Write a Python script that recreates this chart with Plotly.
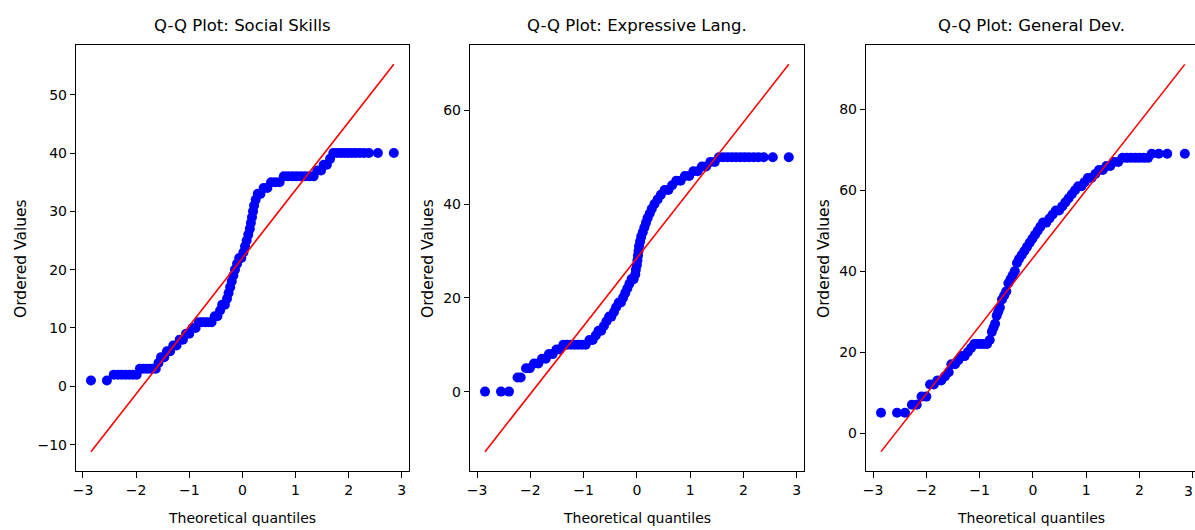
import plotly.graph_objects as go

# ---------------- data ----------------
titles = ["Q-Q Plot: Social Skills", "Q-Q Plot: Expressive Lang.", "Q-Q Plot: General Dev."]

social_x = [-2.85, -2.55, -2.42, -2.34, -2.27, -2.20, -2.13, -2.06, -1.99, -1.93, -1.87, -1.81,
            -1.75, -1.69, -1.63, -1.58, -1.53, -1.47, -1.42, -1.36, -1.30, -1.24, -1.18, -1.12,
            -1.06, -1.00, -0.94, -0.88, -0.82, -0.76, -0.70, -0.64, -0.58, -0.52, -0.47, -0.42,
            -0.38, -0.33, -0.29, -0.26, -0.23, -0.20, -0.17, -0.14, -0.10, -0.06, -0.02, 0.02,
            0.05, 0.08, 0.11, 0.14, 0.16, 0.18, 0.20, 0.22, 0.25, 0.29, 0.34, 0.40, 0.47, 0.54,
            0.62, 0.70, 0.78, 0.86, 0.94, 1.02, 1.10, 1.18, 1.26, 1.34, 1.41, 1.48, 1.53, 1.59,
            1.65, 1.71, 1.78, 1.85, 1.92, 1.99, 2.06, 2.13, 2.21, 2.29, 2.38, 2.55, 2.85]
social_y = [1, 1, 2, 2, 2, 2, 2, 2, 2, 3, 3, 3,
            3, 3, 3, 4, 5, 5, 6, 6, 7, 7, 8, 8,
            9, 9, 10, 10, 11, 11, 11, 11, 11, 12, 12, 13,
            14, 14, 15, 16, 17, 18, 19, 20, 21, 22, 22, 23,
            24, 25, 26, 27, 28, 29, 30, 31, 32, 33, 33, 34, 34, 35,
            35, 35, 36, 36, 36, 36, 36, 36, 36, 36, 37, 37, 38, 38,
            39, 40, 40, 40, 40, 40, 40, 40, 40, 40, 40, 40, 40]

expr_x = [-2.85, -2.55, -2.40, -2.24, -2.18, -2.08, -2.01, -1.93, -1.85, -1.78, -1.71, -1.65,
          -1.58, -1.51, -1.45, -1.38, -1.31, -1.24, -1.17, -1.10, -1.03, -0.96, -0.89, -0.83,
          -0.77, -0.72, -0.67, -0.62, -0.57, -0.52, -0.48, -0.43, -0.39, -0.34, -0.30, -0.26,
          -0.22, -0.18, -0.14, -0.10, -0.06, -0.03, -0.02, 0.00, 0.01, 0.02, 0.03, 0.04,
          0.06, 0.08, 0.11, 0.14, 0.17, 0.20, 0.24, 0.28, 0.33, 0.39, 0.45, 0.52, 0.59, 0.66,
          0.74, 0.82, 0.90, 0.98, 1.06, 1.14, 1.22, 1.30, 1.38, 1.46, 1.54, 1.62, 1.70, 1.78,
          1.86, 1.94, 2.02, 2.10, 2.19, 2.28, 2.38, 2.55, 2.85]
expr_y = [0, 0, 0, 3, 3, 5, 5, 6, 6, 7, 7, 8,
          8, 9, 9, 10, 10, 10, 10, 10, 10, 10, 11, 11,
          12, 13, 13, 14, 15, 16, 16, 17, 18, 19, 19, 20,
          21, 22, 23, 24, 24, 25, 26, 27, 28, 29, 30, 31,
          32, 33, 34, 35, 36, 37, 38, 39, 40, 41, 42, 43, 43, 44,
          45, 45, 46, 46, 47, 47, 48, 48, 49, 49, 50, 50, 50, 50,
          50, 50, 50, 50, 50, 50, 50, 50, 50]

gen_x = [-2.85, -2.55, -2.40, -2.27, -2.18, -2.09, -2.00, -1.93, -1.86, -1.79, -1.72, -1.65,
         -1.58, -1.53, -1.46, -1.40, -1.34, -1.28, -1.22, -1.16, -1.10, -1.04, -0.98, -0.92,
         -0.86, -0.81, -0.77, -0.74, -0.71, -0.68, -0.65, -0.62, -0.58, -0.54, -0.50, -0.46,
         -0.42, -0.38, -0.34, -0.30, -0.26, -0.21, -0.16, -0.11, -0.06, -0.01, 0.04, 0.09,
         0.14, 0.19, 0.25, 0.31, 0.37, 0.43, 0.49, 0.55, 0.61, 0.67, 0.73, 0.79, 0.85, 0.91,
         0.97, 1.03, 1.10, 1.17, 1.24, 1.31, 1.38, 1.45, 1.52, 1.60, 1.68, 1.76, 1.84, 1.92,
         2.00, 2.08, 2.16, 2.23, 2.36, 2.52, 2.85]
gen_y = [5, 5, 5, 7, 7, 9, 9, 12, 12, 13, 13, 14,
         15, 17, 17, 18, 19, 19, 20, 21, 22, 22, 22, 22,
         22, 23, 25, 26, 27, 29, 30, 31, 33, 34, 35, 37,
         38, 39, 40, 42, 43, 44, 45, 46, 47, 48, 49, 50,
         51, 52, 52, 53, 54, 55, 55, 56, 57, 58, 59, 60, 61, 61,
         62, 63, 63, 64, 65, 65, 66, 66, 67, 67, 68, 68, 68, 68,
         68, 68, 68, 69, 69, 69, 69]

fit_x = [-2.85, 2.85]
social_fit = [-11.2, 55.2]
expr_fit = [-12.8, 69.8]
gen_fit = [-4.6, 91.1]

x_ticks = [-3, -2, -1, 0, 1, 2, 3]
y_ticks = [[-10, 0, 10, 20, 30, 40, 50], [0, 20, 40, 60], [0, 20, 40, 60, 80]]
y_ranges = [[-14.52, 58.52], [-16.93, 73.93], [-9.39, 95.89]]
x_ranges = [[-3.135, 3.135], [-3.135, 3.135], [-3.135, 3.041]]

series = [(social_x, social_y, social_fit), (expr_x, expr_y, expr_fit), (gen_x, gen_y, gen_fit)]

# ---------------- layout geometry ----------------
W, H = 1195, 530
FONT = "DejaVu Sans"
x_doms = [[73 / W, 407 / W], [468 / W, 803 / W], [865 / W, 1.0]]
y_dom = [1 - 471 / H, 1 - 45 / H]

fig = go.Figure()
for i, (sx, sy, fy) in enumerate(series):
    xa = "x" if i == 0 else f"x{i+1}"
    ya = "y" if i == 0 else f"y{i+1}"
    fig.add_trace(go.Scatter(x=sx, y=sy, mode="markers", xaxis=xa, yaxis=ya,
                             marker=dict(color="#0000ff", size=10, line=dict(width=0)),
                             showlegend=False, hoverinfo="skip"))
    fig.add_trace(go.Scatter(x=fit_x, y=fy, mode="lines", xaxis=xa, yaxis=ya,
                             line=dict(color="#ff0000", width=1.6),
                             showlegend=False, hoverinfo="skip"))

layout = dict(width=W, height=H, margin=dict(l=0, r=0, t=0, b=0),
              paper_bgcolor="white", plot_bgcolor="white",
              font=dict(family=FONT, size=14, color="black"))
for i in range(3):
    xk = "xaxis" if i == 0 else f"xaxis{i+1}"
    yk = "yaxis" if i == 0 else f"yaxis{i+1}"
    ya = "y" if i == 0 else f"y{i+1}"
    xa = "x" if i == 0 else f"x{i+1}"
    layout[xk] = dict(domain=x_doms[i], anchor=ya, range=x_ranges[i], tickvals=x_ticks,
                      showgrid=False, zeroline=False, showline=True, linecolor="black",
                      linewidth=1, mirror=True, ticks="outside", ticklen=6, tickcolor="black",
                      tickfont=dict(family=FONT, size=14, color="black"))
    layout[yk] = dict(domain=y_dom, anchor=xa, range=y_ranges[i], tickvals=y_ticks[i],
                      showgrid=False, zeroline=False, showline=True, linecolor="black",
                      linewidth=1, mirror=(i < 2), ticks="outside", ticklen=5, tickcolor="black",
                      tickfont=dict(family=FONT, size=14, color="black"))
fig.update_layout(**layout)

title_cx = [240, 635.5, 1031]
ylabel_cx = [18, 426, 823]
for i in range(3):
    fig.add_annotation(text=titles[i], xref="paper", yref="paper", x=title_cx[i] / W,
                       y=1 - 37 / H, xanchor="center", yanchor="bottom", showarrow=False,
                       font=dict(family=FONT, size=16.5, color="black"))
    fig.add_annotation(text="Theoretical quantiles", xref="paper", yref="paper",
                       x=title_cx[i] / W, y=1 - 508 / H, xanchor="center", yanchor="top",
                       showarrow=False, font=dict(family=FONT, size=14, color="black"))
    fig.add_annotation(text="Ordered Values", xref="paper", yref="paper", textangle=-90,
                       x=ylabel_cx[i] / W, y=1 - 258 / H, xanchor="center", yanchor="middle",
                       showarrow=False, font=dict(family=FONT, size=15.5, color="black"))

# the "3" tick label of the last panel sits right at the figure's right edge
fig.add_annotation(text="3", xref="paper", yref="paper", x=1.0, y=1 - 481 / H,
                   xanchor="right", yanchor="top", showarrow=False,
                   font=dict(family=FONT, size=14, color="black"))

fig.write_html("out.html", config={"displayModeBar": False},
               post_script="document.body.style.margin='0';")
